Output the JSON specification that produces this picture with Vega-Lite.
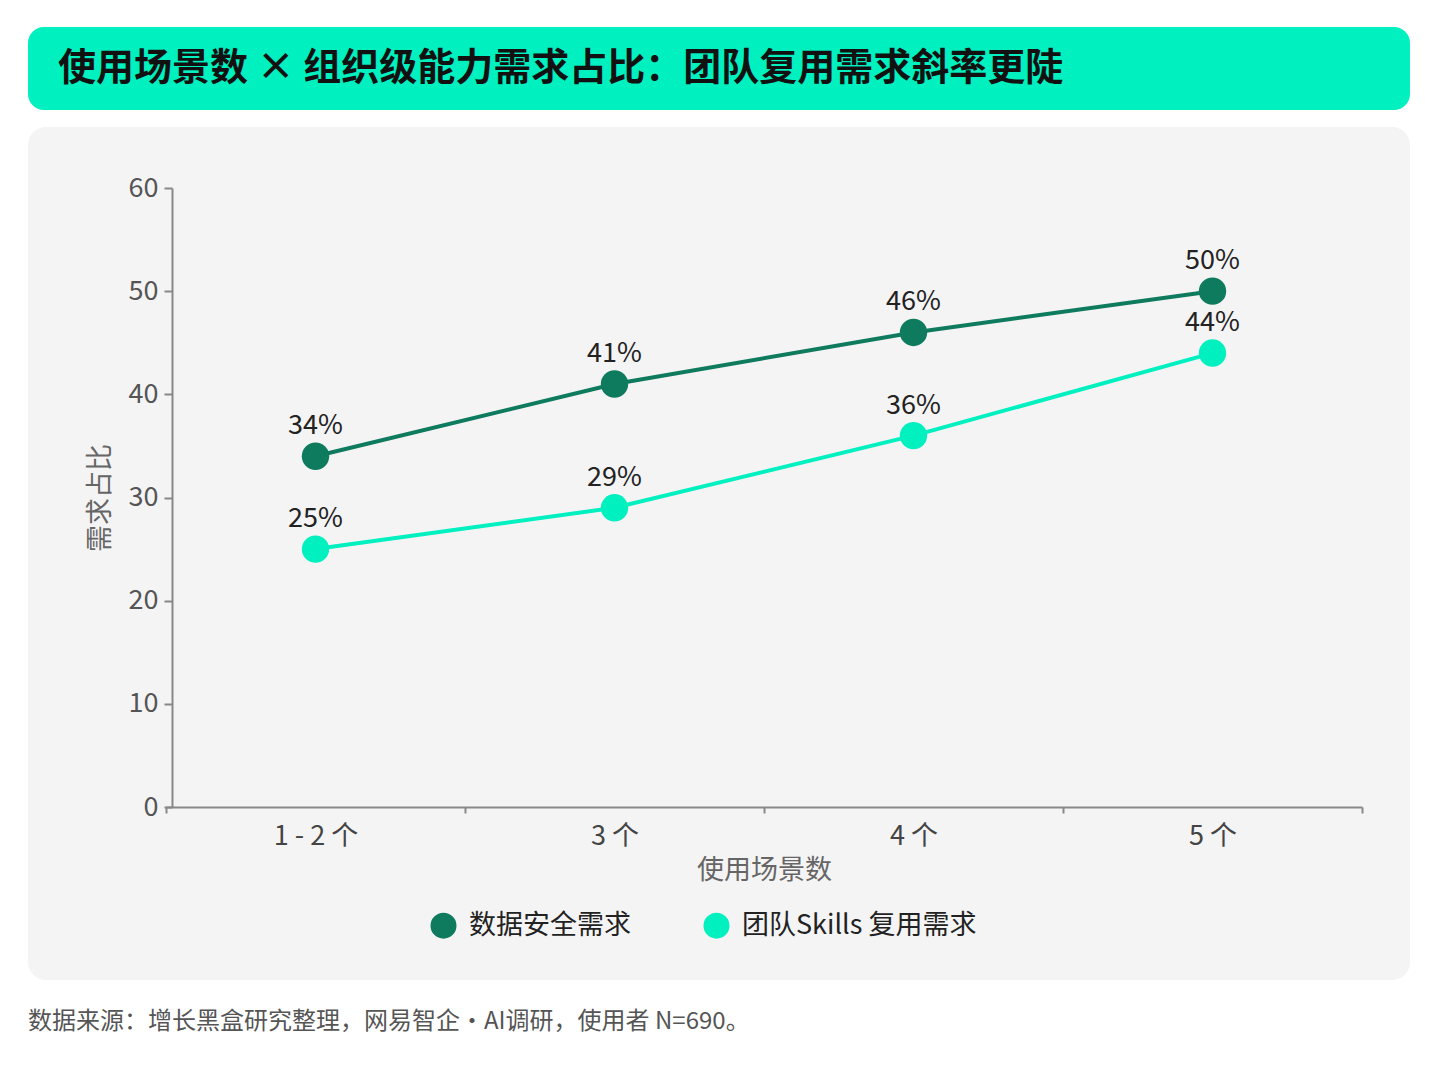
{
  "$schema": "https://vega.github.io/schema/vega-lite/v6.json",
  "background": "#ffffff",
  "padding": {"left": 28, "top": 27, "right": 30, "bottom": 10},
  "config": {
    "font": "Noto Sans CJK SC",
    "view": {"stroke": null}
  },
  "title": {
    "text": "数据来源：增长黑盒研究整理，网易智企·AI调研，使用者 N=690。",
    "orient": "bottom",
    "anchor": "start",
    "offset": 30,
    "fontSize": 24,
    "fontWeight": "normal",
    "color": "#555555"
  },
  "spacing": 17,
  "vconcat": [
    {
      "width": 1382,
      "height": 83,
      "view": {"fill": "#00f0c0", "cornerRadius": 16, "stroke": null},
      "data": {"values": [{"t": "使用场景数 × 组织级能力需求占比：团队复用需求斜率更陡"}]},
      "mark": {"type": "text", "align": "left", "baseline": "middle", "fontSize": 38, "fontWeight": "bold", "color": "#111111"},
      "encoding": {
        "text": {"field": "t"},
        "x": {"datum": 0, "type": "quantitative", "scale": {"domain": [0, 1], "range": [30, 1382]}, "axis": null},
        "y": {"datum": 0.5, "type": "quantitative", "scale": {"domain": [0, 1]}, "axis": null}
      }
    },
    {
      "width": 1382,
      "height": 853,
      "view": {"fill": "#f5f4f5", "cornerRadius": 18, "stroke": null},
      "data": {
        "values": [
          {"cat": "1 - 2 个", "series": "数据安全需求", "v": 34, "label": "34%"},
          {"cat": "3 个", "series": "数据安全需求", "v": 41, "label": "41%"},
          {"cat": "4 个", "series": "数据安全需求", "v": 46, "label": "46%"},
          {"cat": "5 个", "series": "数据安全需求", "v": 50, "label": "50%"},
          {"cat": "1 - 2 个", "series": "团队Skills 复用需求", "v": 25, "label": "25%"},
          {"cat": "3 个", "series": "团队Skills 复用需求", "v": 29, "label": "29%"},
          {"cat": "4 个", "series": "团队Skills 复用需求", "v": 36, "label": "36%"},
          {"cat": "5 个", "series": "团队Skills 复用需求", "v": 44, "label": "44%"}
        ]
      },
      "encoding": {
        "x": {
          "field": "cat", "type": "nominal", "sort": null, "title": "使用场景数",
          "scale": {"type": "band", "range": [138, 1334], "paddingInner": 0, "paddingOuter": 0},
          "axis": {"offset": -173, "labelAngle": 0, "tickBand": "extent", "labelFontSize": 27, "labelColor": "#444444",
                   "titleFontSize": 27, "titleFontWeight": "normal", "titleColor": "#666666", "titlePadding": 8,
                   "domainColor": "#888888", "domainWidth": 2, "tickColor": "#888888", "tickWidth": 2, "tickSize": 6, "labelPadding": 10}
        },
        "y": {
          "field": "v", "type": "quantitative", "title": "需求占比",
          "scale": {"domain": [0, 60], "range": [680, 61]},
          "axis": {"offset": -144, "values": [0, 10, 20, 30, 40, 50, 60], "grid": false, "labelFontSize": 27, "labelColor": "#555555",
                   "titleFontSize": 27, "titleFontWeight": "normal", "titleColor": "#666666", "titlePadding": 14,
                   "domainColor": "#888888", "domainWidth": 2, "tickColor": "#888888", "tickWidth": 2, "tickSize": 8, "labelPadding": 6}
        },
        "color": {
          "field": "series", "type": "nominal", "title": null,
          "scale": {"domain": ["数据安全需求", "团队Skills 复用需求"], "range": ["#0e7a5e", "#00f0c0"]},
          "legend": {"orient": "none", "legendX": 402, "legendY": 885, "direction": "horizontal", "labelFontSize": 27,
                     "labelColor": "#222222", "labelLimit": 400, "symbolType": "circle", "symbolSize": 600, "columnPadding": 70, "labelOffset": 12}
        }
      },
      "layer": [
        {"mark": {"type": "line", "strokeWidth": 4}},
        {"mark": {"type": "circle", "size": 750, "opacity": 1}},
        {"mark": {"type": "text", "dy": -30, "fontSize": 27, "color": "#222222"}, "encoding": {"text": {"field": "label"}, "color": {"value": "#222222"}}}
      ]
    }
  ]
}
